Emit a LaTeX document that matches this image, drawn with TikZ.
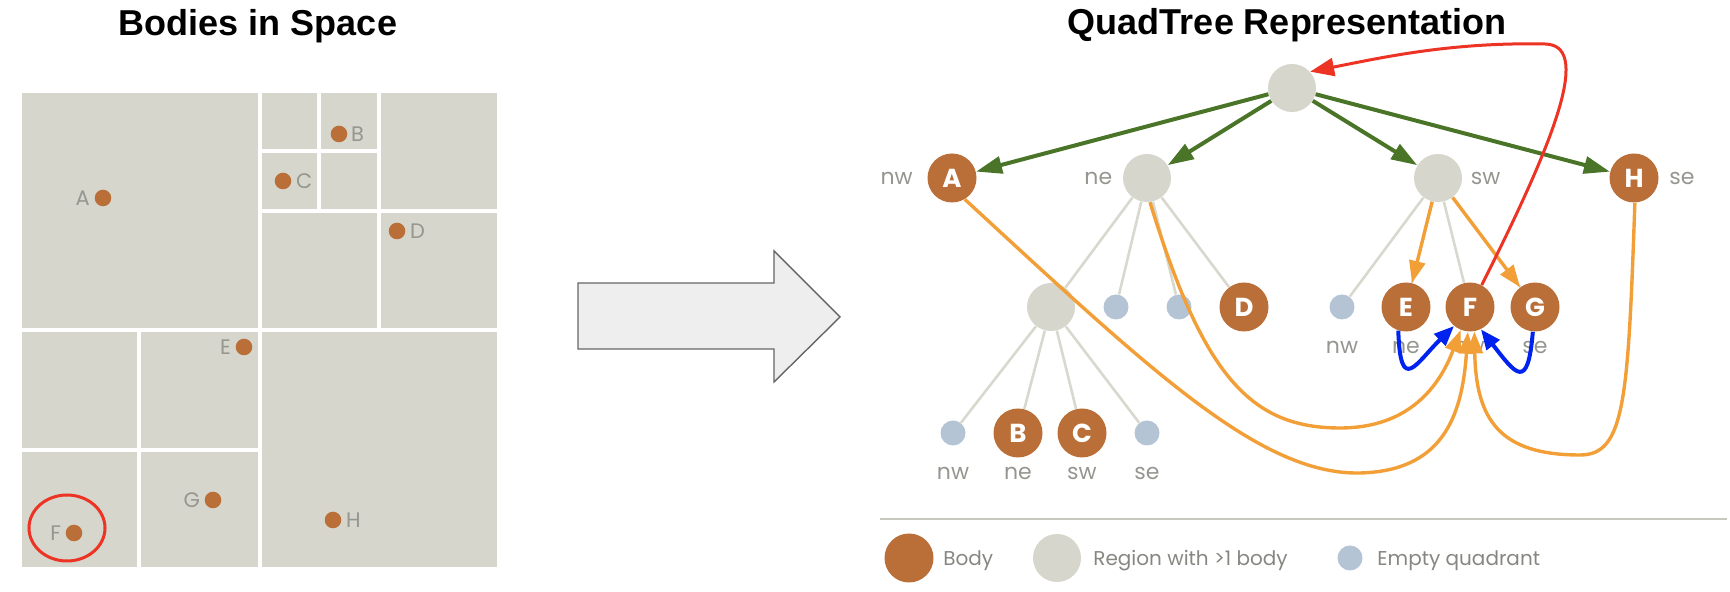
\documentclass[tikz,border=0pt]{standalone}
\usepackage{fontspec}
\setmainfont{Poppins}
\newfontfamily\titlefont{Liberation Sans}
\usetikzlibrary{arrows.meta,positioning}

\definecolor{regiongrey}{RGB}{214,214,204}
\definecolor{bodybrown}{RGB}{186,111,57}
\definecolor{emptyblue}{RGB}{181,196,212}
\definecolor{labelgrey}{RGB}{150,150,145}
\definecolor{legendgrey}{RGB}{135,135,130}
\definecolor{edgegrey}{RGB}{216,216,206}
\definecolor{rulegrey}{RGB}{200,200,190}
\definecolor{treegreen}{RGB}{74,117,41}
\definecolor{linkorange}{RGB}{242,159,56}
\definecolor{linkblue}{RGB}{0,34,238}
\definecolor{linkred}{RGB}{236,51,36}
\definecolor{arrowfill}{RGB}{238,238,238}
\definecolor{arrowedge}{RGB}{102,102,102}

\tikzset{
  bodynode/.style={circle,fill=bodybrown,minimum size=24.5pt,inner sep=0pt,text=white,font=\fontsize{13}{13}\selectfont\bfseries},
  regionnode/.style={circle,fill=regiongrey,minimum size=24pt,inner sep=0pt},
  emptyq/.style={circle,fill=emptyblue,minimum size=12.5pt,inner sep=0pt},
  dot/.style={circle,fill=bodybrown,minimum size=8.3pt,inner sep=0pt},
  dotlbl/.style={inner sep=0pt,text=labelgrey,font=\fontsize{10.5}{10.5}\selectfont},
  quadlbl/.style={inner sep=0pt,text=labelgrey,font=\fontsize{11}{11}\selectfont},
  legendtext/.style={inner sep=0pt,anchor=base west,text=legendgrey,font=\fontsize{10}{10}\selectfont},
  heading/.style={anchor=base,font=\titlefont\bfseries\fontsize{18}{18}\selectfont},
  treeedge/.style={draw=edgegrey,line width=1.3pt},
  kidarrow/.style={draw=treegreen,line width=2pt,-{Triangle[length=13pt,width=8.5pt]}},
  nextarrow/.style={draw=linkorange,line width=1.7pt,-{Triangle[length=11pt,width=8pt]}},
  sibarrow/.style={draw=linkblue,line width=2pt,-{Triangle[length=10pt,width=8pt]}},
  uparrow/.style={draw=linkred,line width=1.5pt,-{Triangle[length=12pt,width=9pt]}},
}

\begin{document}
\begin{tikzpicture}[x=0.5pt,y=-0.5pt]
\useasboundingbox (0,0) rectangle (1730,592);

% titles
\node[heading] (t1) at (258,36) {Bodies in Space};
\node[heading] (t2) at (1287,35) {QuadTree Representation};

% bodies in space
\fill[regiongrey] (22,93) rectangle (497,567);
\draw[white,line width=2pt] (260,93) -- (260,567) (22,330) -- (497,330)
  (379,93) -- (379,330) (260,211) -- (497,211)
  (319,93) -- (319,211) (260,151) -- (379,151)
  (139,330) -- (139,567) (22,450) -- (260,450);

\node[dot] (dA) at (103,198) {};
\node[dot] (dB) at (339,134) {};
\node[dot] (dC) at (283,181) {};
\node[dot] (dD) at (397,231) {};
\node[dot] (dE) at (244,347) {};
\node[dot] (dF) at (74,533) {};
\node[dot] (dG) at (213,500) {};
\node[dot] (dH) at (333,520) {};
\node[dotlbl,left=2pt of dA] (lA) {A};
\node[dotlbl,right=1.5pt of dB] (lB) {B};
\node[dotlbl,right=2pt of dC] (lC) {C};
\node[dotlbl,right=2pt of dD] (lD) {D};
\node[dotlbl,left=2pt of dE] (lE) {E};
\node[dotlbl,left=2pt of dF] (lF) {F};
\node[dotlbl,left=2pt of dG] (lG) {G};
\node[dotlbl,right=2pt of dH] (lH) {H};
\draw[linkred,line width=1.5pt] (67,528) ellipse [x radius=38,y radius=33];

% big arrow
\draw[draw=arrowedge,fill=arrowfill,line width=0.7pt] (578,283) -- (774,283) -- (774,251)
  -- (840,317) -- (774,382) -- (774,349) -- (578,349) -- cycle;

% quadtree
\node[regionnode] (root) at (1292,88) {};
\node[bodynode] (A) at (952,178) {A};
\node[regionnode] (ne) at (1147,178) {};
\node[regionnode] (sw) at (1438,178) {};
\node[bodynode] (H) at (1634,178) {H};
\node[regionnode] (nenw) at (1051,307) {};
\node[emptyq] (nene) at (1116,307) {};
\node[emptyq] (nesw) at (1179,307) {};
\node[bodynode] (D) at (1244,307) {D};
\node[emptyq] (swnw) at (1342,307) {};
\node[bodynode] (E) at (1406,307) {E};
\node[bodynode] (F) at (1470,307) {F};
\node[bodynode] (G) at (1535,307) {G};
\node[emptyq] (nenwnw) at (953,433) {};
\node[bodynode] (B) at (1018,433) {B};
\node[bodynode] (C) at (1082,433) {C};
\node[emptyq] (nenwse) at (1147,433) {};

\foreach \k in {nenw,nene,nesw,D} \draw[treeedge] (ne) -- (\k);
\foreach \k in {swnw,E,F,G} \draw[treeedge] (sw) -- (\k);
\foreach \k in {nenwnw,B,C,nenwse} \draw[treeedge] (nenw) -- (\k);

\node[quadlbl,left=7pt of A] (qA) {nw};
\node[quadlbl,left=5pt of ne] (qne) {ne};
\node[quadlbl,right=4pt of sw] (qsw) {sw};
\node[quadlbl,right=5pt of H] (qH) {se};
\node[quadlbl] (qswnw) at (1342,347) {nw};
\node[quadlbl] (qE) at (1406,347) {ne};
\node[quadlbl] (qF) at (1470,347) {sw};
\node[quadlbl] (qG) at (1535,347) {se};
\node[quadlbl] (qnw3) at (953,473) {nw};
\node[quadlbl] (qB) at (1018,473) {ne};
\node[quadlbl] (qC) at (1082,473) {sw};
\node[quadlbl] (qse3) at (1147,473) {se};

% links
\foreach \k in {A,ne,sw,H} \draw[kidarrow] (root) -- (\k);
\draw[nextarrow] (sw) -- (E);
\draw[nextarrow] (sw) -- (G);
\draw[nextarrow] (ne.-83) .. controls (1203,375) and (1250,428) .. (1340,428)
  .. controls (1410,428) and (1440,385) .. (F.-112);
\draw[nextarrow] (A.-59) .. controls (1150,370) and (1260,475) .. (1360,473)
  .. controls (1440,471) and (1462,420) .. (F.-95);
\draw[nextarrow] (H.-88) .. controls (1628,400) and (1625,455) .. (1580,455)
  .. controls (1500,455) and (1476,420) .. (F.-80);
\draw[sibarrow] (E.-108) .. controls +(2,65) and +(-38,37) .. (F.-130);
\draw[sibarrow] (G.-95) .. controls +(-5,60) and +(35,45) .. (F.-64);
\draw[uparrow] (F.62) .. controls (1560,130) and (1590,45) .. (1545,44)
  .. controls (1450,42) and (1380,58) .. (root.42);

% legend
\draw[rulegrey,line width=1.25pt] (880,519) -- (1727,519);
\node[bodynode] (kbody) at (909,558) {};
\node[regionnode] (kregion) at (1057,558) {};
\node[emptyq] (kempty) at (1350,558) {};
\node[legendtext] (tbody) at (943,566) {Body};
\node[legendtext] (tregion) at (1093,566) {Region with >1 body};
\node[legendtext] (tempty) at (1377,566) {Empty quadrant};

\end{tikzpicture}
\end{document}
